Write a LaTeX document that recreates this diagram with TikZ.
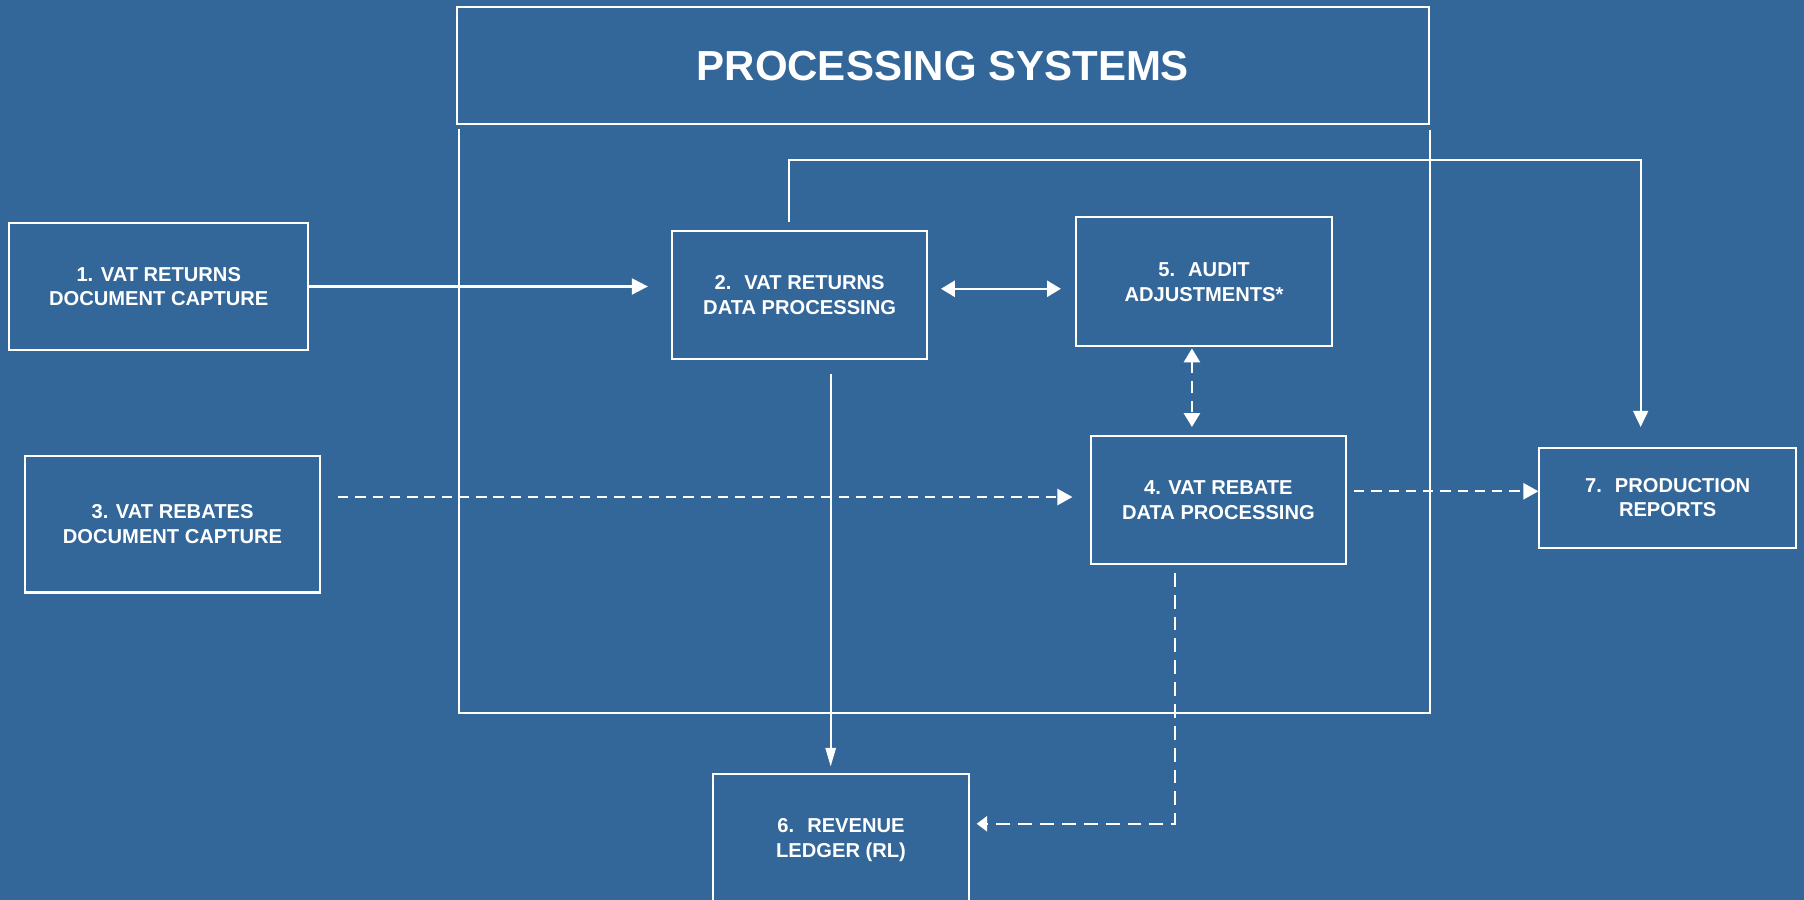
\documentclass[tikz,border=0pt]{standalone}
\usepackage{fontspec}
\setmainfont{Liberation Sans}
\usetikzlibrary{arrows.meta,calc}
\definecolor{bg}{RGB}{52,103,153}
\begin{document}
\begin{tikzpicture}[x=1pt,y=-1pt,
  box/.style={draw=white, line width=1.8pt, text=white, align=center, inner sep=0pt,
    font=\fontsize{17.5}{21.5}\selectfont\bfseries},
  titlebox/.style={draw=white, line width=1.8pt, text=white, inner sep=0pt,
    font=\fontsize{36.5}{40}\selectfont\bfseries},
  conn/.style={draw=white, line width=1.8pt},
  arr/.style={conn, -{Triangle[length=14pt,width=14pt]}},
  darr/.style={conn, {Triangle[length=12pt,width=14pt]}-{Triangle[length=12pt,width=14pt]}},
  dsh/.style={dash pattern=on 9pt off 6pt}
]
\fill[bg] (0,0) rectangle (1568,782);
\useasboundingbox (0,0) rectangle (1568,782);
\clip (0,0) rectangle (1568,782);

% title and processing frame
\node[titlebox, minimum width=845pt, minimum height=102pt] (title) at (819.5,57) {PROCESSING SYSTEMS};
\draw[conn] (399,112) -- (399,620) -- (1243,620) -- (1243,113);

% boxes
\node[box, minimum width=260pt, minimum height=110pt] (b1) at (138,249) {1. VAT RETURNS\\DOCUMENT CAPTURE};
\node[box, minimum width=222pt, minimum height=111pt] (b2) at (695,256.5) {2.~ VAT RETURNS\\DATA PROCESSING};
\node[box, minimum width=256pt, minimum height=119pt] (b3) at (150,455.5) {3. VAT REBATES\\DOCUMENT CAPTURE};
\node[box, minimum width=222pt, minimum height=111pt] (b4) at (1059,434.5) {4. VAT REBATE\\DATA PROCESSING};
\node[box, minimum width=223pt, minimum height=112pt] (b5) at (1046.5,245) {5.~ AUDIT\\ADJUSTMENTS*};
\node[box, minimum width=222pt, minimum height=114pt] (b6) at (731,730) {6.~ REVENUE\\LEDGER (RL)};
\node[box, minimum width=223pt, minimum height=87pt] (b7) at (1449.5,432.5) {7.~ PRODUCTION\\REPORTS};

% 1 -> 2
\draw[arr, shorten >=20pt] (b1.east) -- (b1.east -| b2.west);
% 2 <-> 5
\draw[darr, shorten <=11pt, shorten >=12pt] ([yshift=5.5pt]b2.east) -- ([yshift=5.5pt]b2.east -| b5.west);
% 5 <-> 4 dashed
\draw[darr, dash pattern=on 10pt off 7pt, shorten <=1pt, shorten >=7pt] ([xshift=-10.5pt]b5.south) -- ([xshift=-10.5pt]b5.south |- b4.north);
% 3 -> 4 dashed
\coordinate (c3) at ($(b3.east)+(15,-23.5)$);
\draw[arr, dsh, -{Triangle[length=13pt,width=14pt]}, shorten >=15pt] (c3) -- (c3 -| b4.west);
% 4 -> 7 dashed
\coordinate (c4) at ($(b4.east)+(6,-7.5)$);
\draw[arr, dsh, -{Triangle[length=13pt,width=14pt]}] (c4) -- (c4 -| b7.west);
% 2 -> 6
\coordinate (c2) at ($(b2.south)+(27,12)$);
\draw[arr, line width=1.5pt, -{Triangle[length=16pt,width=9pt]}, shorten >=6pt] (c2) -- (c2 |- b6.north);
% 4 -> 6 dashed
\coordinate (c4b) at ($(b4.south)+(-38,7)$);
\draw[arr, dash pattern=on 12pt off 7pt, -{Triangle[length=9pt,width=13pt]}, shorten >=6pt] (c4b) |- ($(b6.east)+(0,-14)$);
% 2 -> 7
\coordinate (c2t) at ($(b2.north)+(-9,-7)$);
\coordinate (c2u) at ($(b2.north)+(-9,-61)$);
\draw[arr, -{Triangle[length=14pt,width=13pt]}, shorten >=17pt] (c2t) -- (c2u) -| ($(b7.north)+(-23.5,0)$);
\end{tikzpicture}
\end{document}
